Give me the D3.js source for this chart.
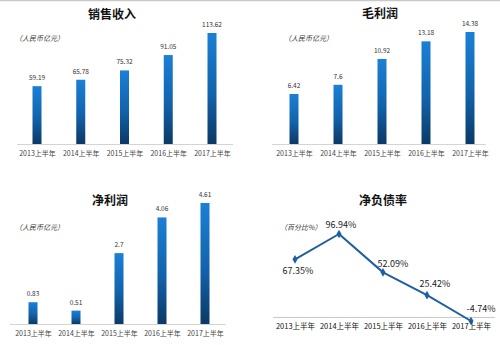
<!DOCTYPE html>
<html><head><meta charset="utf-8">
<script src="https://cdn.jsdelivr.net/npm/d3@7"></script>
<style>body{margin:0;background:#fff}svg{display:block}</style>
</head><body>
<script>
const categories = ["2013上半年","2014上半年","2015上半年","2016上半年","2017上半年"];
const salesRevenue = [59.19, 65.78, 75.32, 91.05, 113.62];
const grossProfit = [6.42, 7.6, 10.92, 13.18, 14.38];
const netProfit = [0.83, 0.51, 2.7, 4.06, 4.61];
const netDebtRatio = [67.35, 96.94, 52.09, 25.42, -4.74];
const titles = ["销售收入","毛利润","净利润","净负债率"];
const unitLabels = ["（人民币亿元）","（人民币亿元）","（人民币亿元）","（百分比%）"];

const W = 500, H = 345;
const svg = d3.select("body").append("svg").attr("width", W).attr("height", H);
const FONT = "'Noto Sans CJK SC','Noto Sans',sans-serif";

const defs = svg.append("defs");
const grad = defs.append("linearGradient").attr("id","barGrad").attr("x1",0).attr("y1",0).attr("x2",0).attr("y2",1);
grad.append("stop").attr("offset","0%").attr("stop-color","#1b80d6");
grad.append("stop").attr("offset","55%").attr("stop-color","#1263ab");
grad.append("stop").attr("offset","100%").attr("stop-color","#0b3966");

svg.append("line").attr("x1",0).attr("x2",W).attr("y1",0.5).attr("y2",0.5).attr("stroke","#c8c8c8").attr("stroke-width",1.5);

function barPanel(cfg) {
  const g = svg.append("g");
  const x = d3.scalePoint().domain(categories).range([cfg.x0, cfg.x1]);
  const y = d3.scaleLinear().domain([0, cfg.maxV]).range([cfg.base, cfg.top]);
  g.append("text").attr("x", cfg.titleX).attr("y", cfg.titleY).attr("text-anchor","middle")
    .attr("font-family",FONT).attr("font-weight","bold").attr("font-size",12).attr("fill","#111").text(cfg.title);
  g.append("text").attr("x", cfg.unitX).attr("y", cfg.unitY)
    .attr("font-family",FONT).attr("font-style","italic").attr("font-size",7).attr("fill","#333").text(cfg.unit);
  g.append("line").attr("x1",cfg.ax0).attr("x2",cfg.ax1).attr("y1",cfg.base+0.5).attr("y2",cfg.base+0.5)
    .attr("stroke","#d4d4d4").attr("stroke-width",1);
  const bw = 9;
  g.selectAll("rect.bar").data(cfg.values).join("rect").attr("class","bar")
    .attr("x",(d,i)=>x(categories[i])-bw/2).attr("width",bw)
    .attr("y",d=>y(d)).attr("height",d=>cfg.base-y(d)).attr("fill","url(#barGrad)");
  g.selectAll("text.val").data(cfg.values).join("text").attr("class","val")
    .attr("x",(d,i)=>x(categories[i])).attr("y",d=>y(d)-6).attr("text-anchor","middle")
    .attr("font-family",FONT).attr("font-size",6.5).attr("fill","#333").text(d=>d);
  const axis = d3.axisBottom(x).tickSize(0).tickPadding(0);
  const ag = g.append("g").attr("transform",`translate(0,${cfg.base+12})`).call(axis);
  ag.select(".domain").remove();
  ag.selectAll("text").attr("font-family",FONT).attr("font-size",7).attr("fill","#444").attr("dy",0);
}

barPanel({values: salesRevenue, title: titles[0], unit: unitLabels[0],
  x0: 37, x1: 212, base: 144, top: 33, maxV: 113.62, titleX: 112, titleY: 19,
  unitX: 15, unitY: 41, ax0: 17, ax1: 233});
barPanel({values: grossProfit, title: titles[1], unit: unitLabels[1],
  x0: 294, x1: 470, base: 144, top: 32, maxV: 14.38, titleX: 380, titleY: 18,
  unitX: 284, unitY: 41, ax0: 272, ax1: 486});
barPanel({values: netProfit, title: titles[2], unit: unitLabels[2],
  x0: 33, x1: 205, base: 324, top: 203, maxV: 4.61, titleX: 110, titleY: 205,
  unitX: 15, unitY: 230, ax0: 10, ax1: 226});

// Line panel
(function(){
  const g = svg.append("g");
  const x = d3.scalePoint().domain(categories).range([295, 471]);
  const y = d3.scaleLinear().domain([-4.74, 96.94]).range([321, 234]);
  g.append("text").attr("x",383).attr("y",205).attr("text-anchor","middle")
    .attr("font-family",FONT).attr("font-weight","bold").attr("font-size",12).attr("fill","#111").text(titles[3]);
  g.append("text").attr("x",280).attr("y",230)
    .attr("font-family",FONT).attr("font-style","italic").attr("font-size",7).attr("fill","#333").text(unitLabels[3]);
  g.append("line").attr("x1",273).attr("x2",495).attr("y1",y(0)+0.5).attr("y2",y(0)+0.5)
    .attr("stroke","#c8c8c8").attr("stroke-width",1);
  const line = d3.line().x((d,i)=>x(categories[i])).y(d=>y(d));
  g.append("path").datum(netDebtRatio).attr("d",line).attr("fill","none")
    .attr("stroke","#1f5f9f").attr("stroke-width",2).attr("stroke-linejoin","round");
  const sym = d3.symbol().type(d3.symbolDiamond).size(22);
  g.selectAll("path.pt").data(netDebtRatio).join("path").attr("class","pt")
    .attr("transform",(d,i)=>`translate(${x(categories[i])},${y(d)})`).attr("d",sym).attr("fill","#1f5f9f");
  const off = [[3,15],[2,-6],[10,-5],[8,-8],[10,-9]];
  g.selectAll("text.val").data(netDebtRatio).join("text").attr("class","val")
    .attr("x",(d,i)=>x(categories[i])+off[i][0]).attr("y",(d,i)=>y(d)+off[i][1]).attr("text-anchor","middle")
    .attr("font-family",FONT).attr("font-size",9).attr("fill","#222").text(d=>d.toFixed(2)+"%");
  const axis = d3.axisBottom(x).tickSize(0).tickPadding(0);
  const ag = g.append("g").attr("transform",`translate(0,${329})`).call(axis);
  ag.select(".domain").remove();
  ag.selectAll("text").attr("font-family",FONT).attr("font-size",7.5).attr("fill","#111").attr("dy",0);
})();
</script>
</body></html>
